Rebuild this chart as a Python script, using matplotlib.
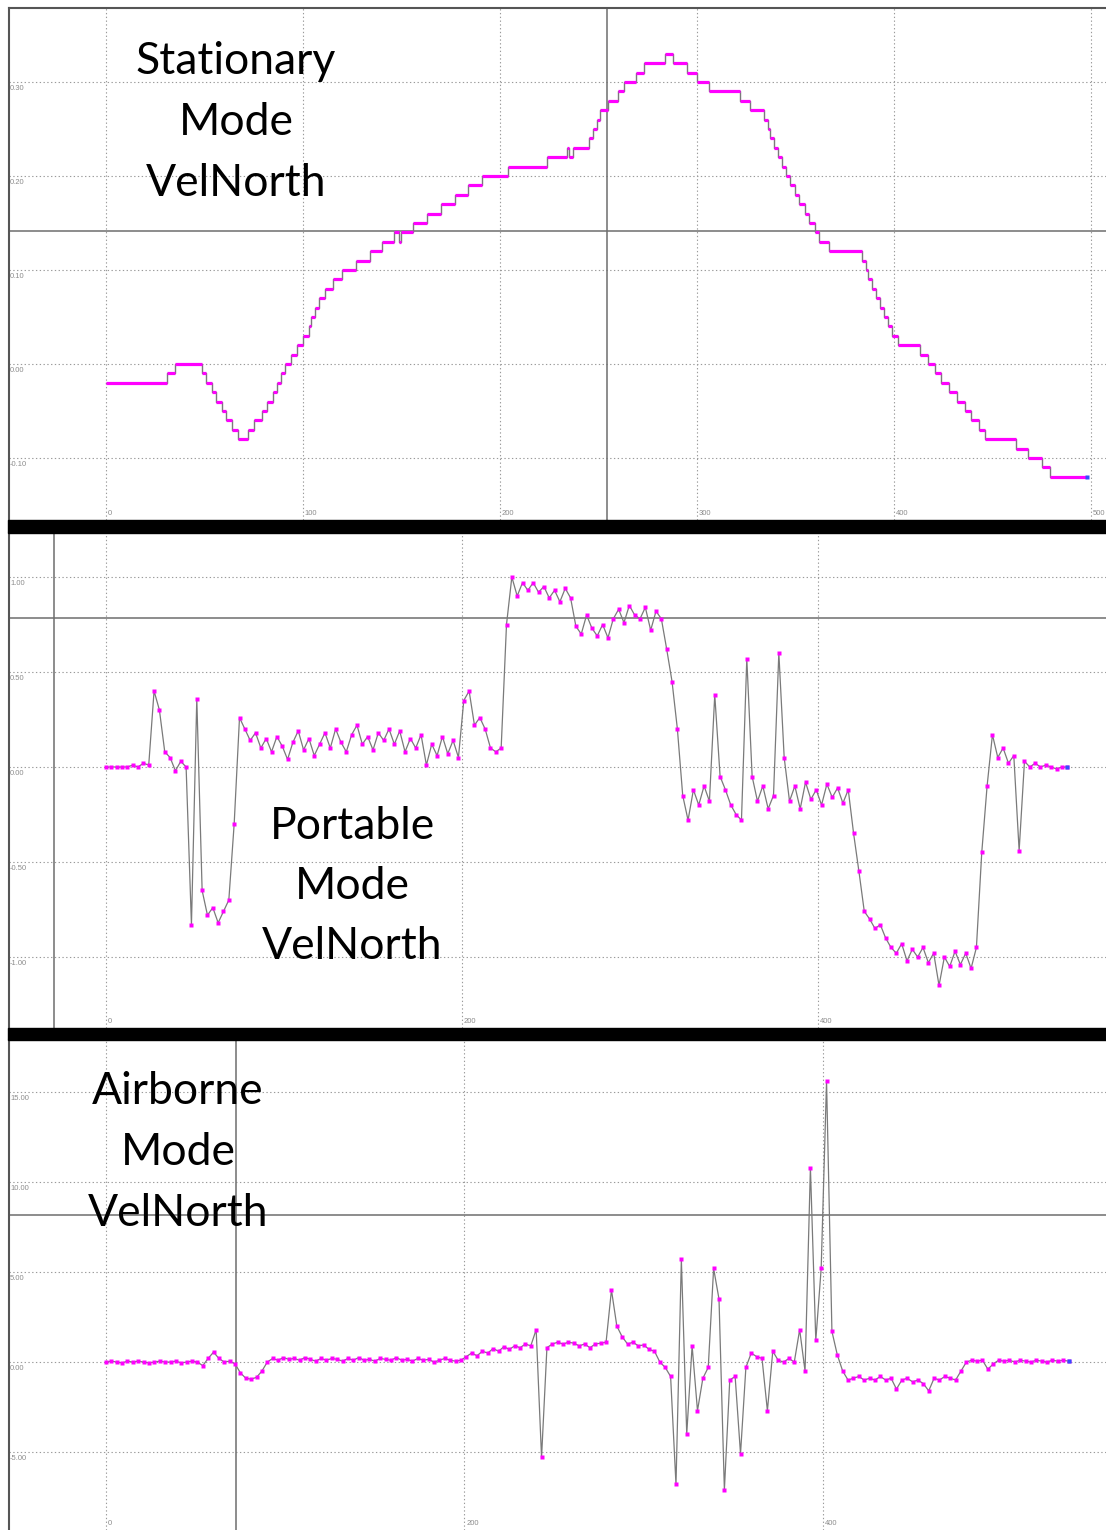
import numpy as np
import matplotlib.pyplot as plt
from matplotlib.patches import Rectangle
import matplotlib.transforms as mtransforms

W, H = 1106, 1530
LINE_GRAY = '#7a7a7a'
MAGENTA = '#ff00ff'
GRID_GRAY = '#9a9a9a'
LABEL_GRAY = '#8c8c8c'
BORDER = '#555555'

# Stationary mode: quantised steps (sample where a level starts, level)
stat_start = [0, 31, 35, 49, 51, 54, 56, 59, 61, 64,
              67, 72, 75, 79, 82, 85, 87, 89, 91, 94,
              97, 100, 103, 104, 106, 108, 111, 115, 120, 127,
              134, 140, 146, 149, 150, 156, 163, 170, 177, 184,
              191, 204, 224, 234, 235, 237, 245, 247, 249, 251,
              255, 260, 263, 269, 273, 284, 288, 295, 300, 306,
              322, 327, 334, 336, 337, 339, 341, 343, 345, 347,
              350, 352, 355, 357, 360, 362, 367, 384, 386, 387,
              389, 391, 393, 395, 397, 399, 402, 413, 417, 421,
              424, 428, 432, 436, 439, 443, 446, 462, 468, 475,
              479, 498]
stat_level = [-0.02, -0.01, 0.00, -0.01, -0.02, -0.03, -0.04, -0.05, -0.06, -0.07,
              -0.08, -0.07, -0.06, -0.05, -0.04, -0.03, -0.02, -0.01, 0.00, 0.01,
              0.02, 0.03, 0.04, 0.05, 0.06, 0.07, 0.08, 0.09, 0.10, 0.11,
              0.12, 0.13, 0.14, 0.13, 0.14, 0.15, 0.16, 0.17, 0.18, 0.19,
              0.20, 0.21, 0.22, 0.23, 0.22, 0.23, 0.24, 0.25, 0.26, 0.27,
              0.28, 0.29, 0.30, 0.31, 0.32, 0.33, 0.32, 0.31, 0.30, 0.29,
              0.28, 0.27, 0.26, 0.25, 0.24, 0.23, 0.22, 0.21, 0.20, 0.19,
              0.18, 0.17, 0.16, 0.15, 0.14, 0.13, 0.12, 0.11, 0.10, 0.09,
              0.08, 0.07, 0.06, 0.05, 0.04, 0.03, 0.02, 0.01, 0.00, -0.01,
              -0.02, -0.03, -0.04, -0.05, -0.06, -0.07, -0.08, -0.09, -0.10, -0.11,
              -0.12, -0.12]

# Portable mode, one value every 3 samples
port_step = 3
port_vel = [0.00, 0.00, 0.00, 0.00, 0.00, 0.01, 0.00, 0.02, 0.01, 0.40,
            0.30, 0.08, 0.05, -0.02, 0.03, 0.00, -0.83, 0.36, -0.65, -0.78,
            -0.74, -0.82, -0.76, -0.70, -0.30, 0.26, 0.20, 0.14, 0.18, 0.10,
            0.15, 0.08, 0.16, 0.11, 0.04, 0.13, 0.19, 0.09, 0.15, 0.06,
            0.12, 0.18, 0.10, 0.20, 0.13, 0.08, 0.17, 0.22, 0.12, 0.16,
            0.09, 0.18, 0.14, 0.20, 0.12, 0.19, 0.08, 0.15, 0.10, 0.17,
            0.01, 0.12, 0.06, 0.16, 0.07, 0.14, 0.05, 0.35, 0.40, 0.22,
            0.26, 0.20, 0.10, 0.08, 0.10, 0.75, 1.00, 0.90, 0.97, 0.93,
            0.97, 0.92, 0.95, 0.89, 0.93, 0.87, 0.94, 0.89, 0.74, 0.70,
            0.80, 0.73, 0.69, 0.75, 0.68, 0.78, 0.83, 0.76, 0.85, 0.80,
            0.78, 0.84, 0.72, 0.82, 0.78, 0.62, 0.45, 0.20, -0.15, -0.28,
            -0.12, -0.20, -0.10, -0.18, 0.38, -0.05, -0.12, -0.20, -0.25, -0.28,
            0.57, -0.05, -0.18, -0.10, -0.22, -0.15, 0.60, 0.05, -0.18, -0.10,
            -0.22, -0.08, -0.17, -0.12, -0.20, -0.09, -0.16, -0.11, -0.19, -0.12,
            -0.35, -0.55, -0.76, -0.80, -0.85, -0.83, -0.90, -0.95, -0.98, -0.93,
            -1.02, -0.96, -1.00, -0.95, -1.03, -0.98, -1.15, -1.00, -1.05, -0.97,
            -1.04, -0.98, -1.06, -0.95, -0.45, -0.10, 0.17, 0.05, 0.10, 0.02,
            0.06, -0.44, 0.03, 0.00, 0.02, 0.00, 0.01, 0.00, -0.01, 0.00,
            0.00]

# Airborne mode, one value every 3 samples
air_step = 3
air_vel = [0.00, 0.05, 0.00, -0.05, 0.05, 0.00, 0.05, 0.00, -0.05, 0.00,
           0.05, 0.00, 0.00, 0.05, -0.05, 0.00, 0.05, 0.00, -0.20, 0.20,
           0.55, 0.20, 0.00, 0.05, -0.10, -0.60, -0.90, -0.95, -0.85, -0.50,
           0.00, 0.20, 0.10, 0.25, 0.15, 0.20, 0.10, 0.25, 0.15, 0.05,
           0.20, 0.10, 0.20, 0.15, 0.05, 0.20, 0.10, 0.25, 0.10, 0.15,
           0.05, 0.20, 0.15, 0.10, 0.25, 0.10, 0.15, 0.05, 0.20, 0.10,
           0.15, 0.00, 0.10, 0.20, 0.10, 0.05, 0.10, 0.30, 0.50, 0.35,
           0.60, 0.50, 0.75, 0.60, 0.85, 0.70, 0.90, 0.80, 1.00, 0.90,
           1.80, -5.30, 0.80, 1.00, 1.10, 1.00, 1.10, 1.05, 0.90, 1.00,
           0.80, 1.00, 1.05, 1.10, 4.00, 2.00, 1.40, 1.00, 1.10, 0.90,
           0.95, 0.70, 0.60, 0.00, -0.30, -0.80, -6.80, 5.70, -4.00, 0.90,
           -2.70, -0.90, -0.30, 5.20, 3.50, -7.10, -1.00, -0.80, -5.10, -0.30,
           0.50, 0.30, 0.20, -2.70, 0.60, 0.10, 0.00, 0.20, 0.00, 1.80,
           -0.50, 10.80, 1.20, 5.20, 15.60, 1.70, 0.40, -0.50, -1.00, -0.90,
           -0.80, -1.00, -0.90, -1.00, -0.80, -1.00, -0.90, -1.50, -1.00, -0.90,
           -1.10, -1.00, -1.20, -1.60, -0.90, -1.00, -0.80, -0.90, -1.00, -0.50,
           0.00, 0.10, 0.05, 0.10, -0.40, -0.10, 0.10, 0.05, 0.10, 0.00,
           0.10, 0.05, 0.00, 0.10, 0.05, 0.00, 0.10, 0.05, 0.10, 0.05]

# ticks of each panel
stat_xticks = [0, 100, 200, 300, 400, 500]
stat_yticks = [-0.10, 0.00, 0.10, 0.20, 0.30]
port_xticks = [0, 200, 400]
port_yticks = [-1.00, -0.50, 0.00, 0.50, 1.00]
air_xticks = [0, 200, 400]
air_yticks = [-5.00, 0.00, 5.00, 10.00, 15.00]

# cursor crosshair (x, y) of each panel
stat_cursor = (254.3, 0.1415)
port_cursor = (-29.2, 0.784)
air_cursor = (72.5, 8.17)

fig = plt.figure(figsize=(W / 100, H / 100), dpi=100)


def make_panel(top, bottom, xlim, ylim, xticks, yticks, cursor, top_border=False):
    ax = fig.add_axes([9 / W, 1 - bottom / H, (W - 9) / W, (bottom - top) / H])
    ax.set_xlim(xlim)
    ax.set_ylim(ylim)
    ax.set_xticks(xticks)
    ax.set_yticks(yticks)
    ax.tick_params(length=0, labelleft=False, labelbottom=False)
    ax.grid(True, color=GRID_GRAY, lw=0.8, ls=(0, (1.2, 2.2)))
    ax.set_axisbelow(True)
    for side in ['right', 'bottom']:
        ax.spines[side].set_visible(False)
    ax.spines['top'].set_visible(top_border)
    ax.spines['top'].set_color(BORDER)
    ax.spines['top'].set_linewidth(1.5)
    ax.spines['left'].set_color(BORDER)
    ax.spines['left'].set_linewidth(1.5)
    # crosshair cursor
    ax.axvline(cursor[0], color='#6e6e6e', lw=1.1, zorder=1)
    ax.axhline(cursor[1], color='#6e6e6e', lw=1.1, zorder=1)
    # tick labels inside the plot area
    ytr = mtransforms.offset_copy(ax.get_yaxis_transform(), fig=fig, x=1, y=-3, units='dots')
    for v in yticks:
        ax.text(0.0, v, f'{v:.2f}', transform=ytr, ha='left', va='top',
                fontsize=5.5, color=LABEL_GRAY, family='Liberation Sans')
    xtr = mtransforms.offset_copy(ax.get_xaxis_transform(), fig=fig, x=2, y=3, units='dots')
    for t in xticks:
        ax.text(t, 0.0, str(t), transform=xtr, ha='left', va='bottom',
                fontsize=5.5, color=LABEL_GRAY, family='Liberation Sans')
    return ax


def draw_trace(ax, step, values):
    x = np.arange(len(values)) * step
    ax.plot(x, values, color=LINE_GRAY, lw=0.9, zorder=3)
    ax.plot(x, values, ls='none', marker='s', ms=2.3, color=MAGENTA, mec='none', zorder=4)
    ax.plot(x[-1], values[-1], 's', ms=2.3, color='#3050ff', mec='none', zorder=5)


# ---- Stationary panel
ax1 = make_panel(8, 520, (-49.2, 507.6), (-0.166, 0.3787),
                 stat_xticks, stat_yticks, stat_cursor, top_border=True)
ax1.step(stat_start, stat_level, where='post', color=LINE_GRAY, lw=1.0, zorder=3)
ax1.hlines(stat_level[:-1], stat_start[:-1], stat_start[1:], color=MAGENTA, lw=2.3, zorder=4)
ax1.plot(stat_start[-1], stat_level[-1], 's', ms=2.2, color='#3050ff', mec='none', zorder=5)

# ---- Portable panel
ax2 = make_panel(533, 1028, (-54.5, 561.8), (-1.3737, 1.2316),
                 port_xticks, port_yticks, port_cursor)
draw_trace(ax2, port_step, port_vel)

# ---- Airborne panel
ax3 = make_panel(1040, 1530, (-54.1, 557.9), (-9.33, 17.89),
                 air_xticks, air_yticks, air_cursor)
draw_trace(ax3, air_step, air_vel)

# thick black separators between the panels
for y0, y1 in [(520, 533), (1028, 1040)]:
    fig.add_artist(Rectangle((8 / W, 1 - y1 / H), (W - 8) / W, (y1 - y0) / H,
                             transform=fig.transFigure, color='black', zorder=10))

# big panel titles
titles = [
    (236, [74, 135, 196], ['Stationary', 'Mode', 'VelNorth']),
    (352, [839, 899, 959], ['Portable', 'Mode', 'VelNorth']),
    (178, [1104, 1165, 1226], ['Airborne', 'Mode', 'VelNorth']),
]
for cx, baselines, words in titles:
    for by, word in zip(baselines, words):
        fig.text(cx / W, 1 - by / H, word, ha='center', va='baseline',
                 fontsize=32, family='Lato', color='black', zorder=11)

fig.savefig('out.png', dpi=100, facecolor='white')
